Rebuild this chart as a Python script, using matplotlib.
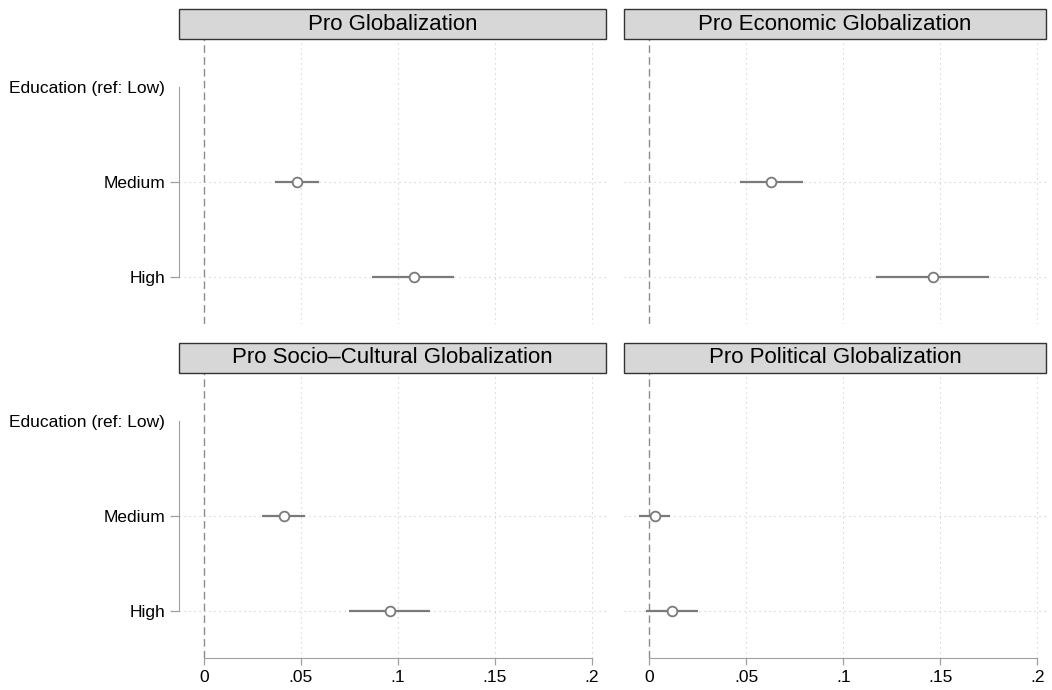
import matplotlib
matplotlib.use("Agg")
import matplotlib.pyplot as plt
from matplotlib.patches import Rectangle

plt.rcParams['font.family'] = ['Liberation Sans', 'DejaVu Sans']

# coefficient estimates
panels = ["Pro Globalization", "Pro Economic Globalization",
          "Pro Socio\u2013Cultural Globalization", "Pro Political Globalization"]
row_labels = ["Education (ref: Low)", "Medium", "High"]
xticks = [0, 0.05, 0.1, 0.15, 0.2]
xtick_labels = ["0", ".05", ".1", ".15", ".2"]

coef = [[0.0479, 0.1081],
        [0.0628, 0.1461],
        [0.0412, 0.0957],
        [0.0031, 0.0115]]
ci_lo = [[0.0366, 0.0869],
         [0.0468, 0.1169],
         [0.0302, 0.0747],
         [-0.0052, -0.0015]]
ci_hi = [[0.0593, 0.1290],
         [0.0791, 0.1753],
         [0.0521, 0.1167],
         [0.0108, 0.0249]]

fig = plt.figure(figsize=(10.52, 6.9), dpi=100)

# [left, bottom, width, height] in figure fractions, and xlims
boxes = [[0.1704, 0.5304, 0.4053, 0.4131],
         [0.5934, 0.5304, 0.4009, 0.4131],
         [0.1704, 0.0464, 0.4053, 0.4135],
         [0.5934, 0.0464, 0.4009, 0.4135]]
xlims = [(-0.0127, 0.2071), (-0.0129, 0.2045), (-0.0127, 0.2071), (-0.0129, 0.2045)]

grey = "#7a7a7a"
for i in range(4):
    ax = fig.add_axes(boxes[i])
    ax.set_xlim(xlims[i])
    ax.set_ylim(3.5, 0.49)

    # grid
    for xv in xticks[1:]:
        ax.axvline(xv, color="#c8c8c8", lw=0.8, ls=(0, (1, 3.5)), zorder=0)
    for yv in [2, 3]:
        ax.axhline(yv, color="#c8c8c8", lw=0.8, ls=(0, (1, 3.5)), zorder=0)
    ax.axvline(0, color="#8c8c8c", lw=1.0, ls=(0, (5.5, 3)), zorder=1)

    ys = [2, 3]
    ax.hlines(ys, ci_lo[i], ci_hi[i], color=grey, lw=1.6, zorder=2)
    ax.plot(coef[i], ys, "o", ms=7, mfc="white", mec=grey, mew=1.3, zorder=3)

    for s in ["top", "right"]:
        ax.spines[s].set_visible(False)

    # y axis only on left column
    if i % 2 == 0:
        ax.spines["left"].set_color("#a0a0a0")
        ax.spines["left"].set_bounds(1, 3)
        ax.set_yticks([1, 2, 3])
        ax.set_yticklabels(row_labels, fontsize=12.5)
        ax.tick_params(axis="y", length=6.5, width=0.9, color="#a0a0a0", pad=3.5)
        ax.yaxis.get_major_ticks()[0].tick1line.set_visible(False)
    else:
        ax.spines["left"].set_visible(False)
        ax.set_yticks([])

    # x axis only on bottom row
    if i >= 2:
        ax.spines["bottom"].set_color("#a0a0a0")
        ax.spines["bottom"].set_bounds(0, 0.2)
        ax.set_xticks(xticks)
        ax.set_xticklabels(xtick_labels, fontsize=12.5)
        ax.tick_params(axis="x", length=5, width=0.9, color="#a0a0a0", pad=4)
    else:
        ax.spines["bottom"].set_visible(False)
        ax.set_xticks([])

    # title strip
    h = 29.7 / (boxes[i][3] * 690)
    ax.add_patch(Rectangle((0, 1), 1, h, transform=ax.transAxes, clip_on=False,
                           facecolor="#d7d7d8", edgecolor="#333333", lw=1.0))
    ax.text(0.5, 1 + h / 2, panels[i], transform=ax.transAxes, ha="center",
            va="center", fontsize=16)

fig.savefig("out.png", dpi=100)
